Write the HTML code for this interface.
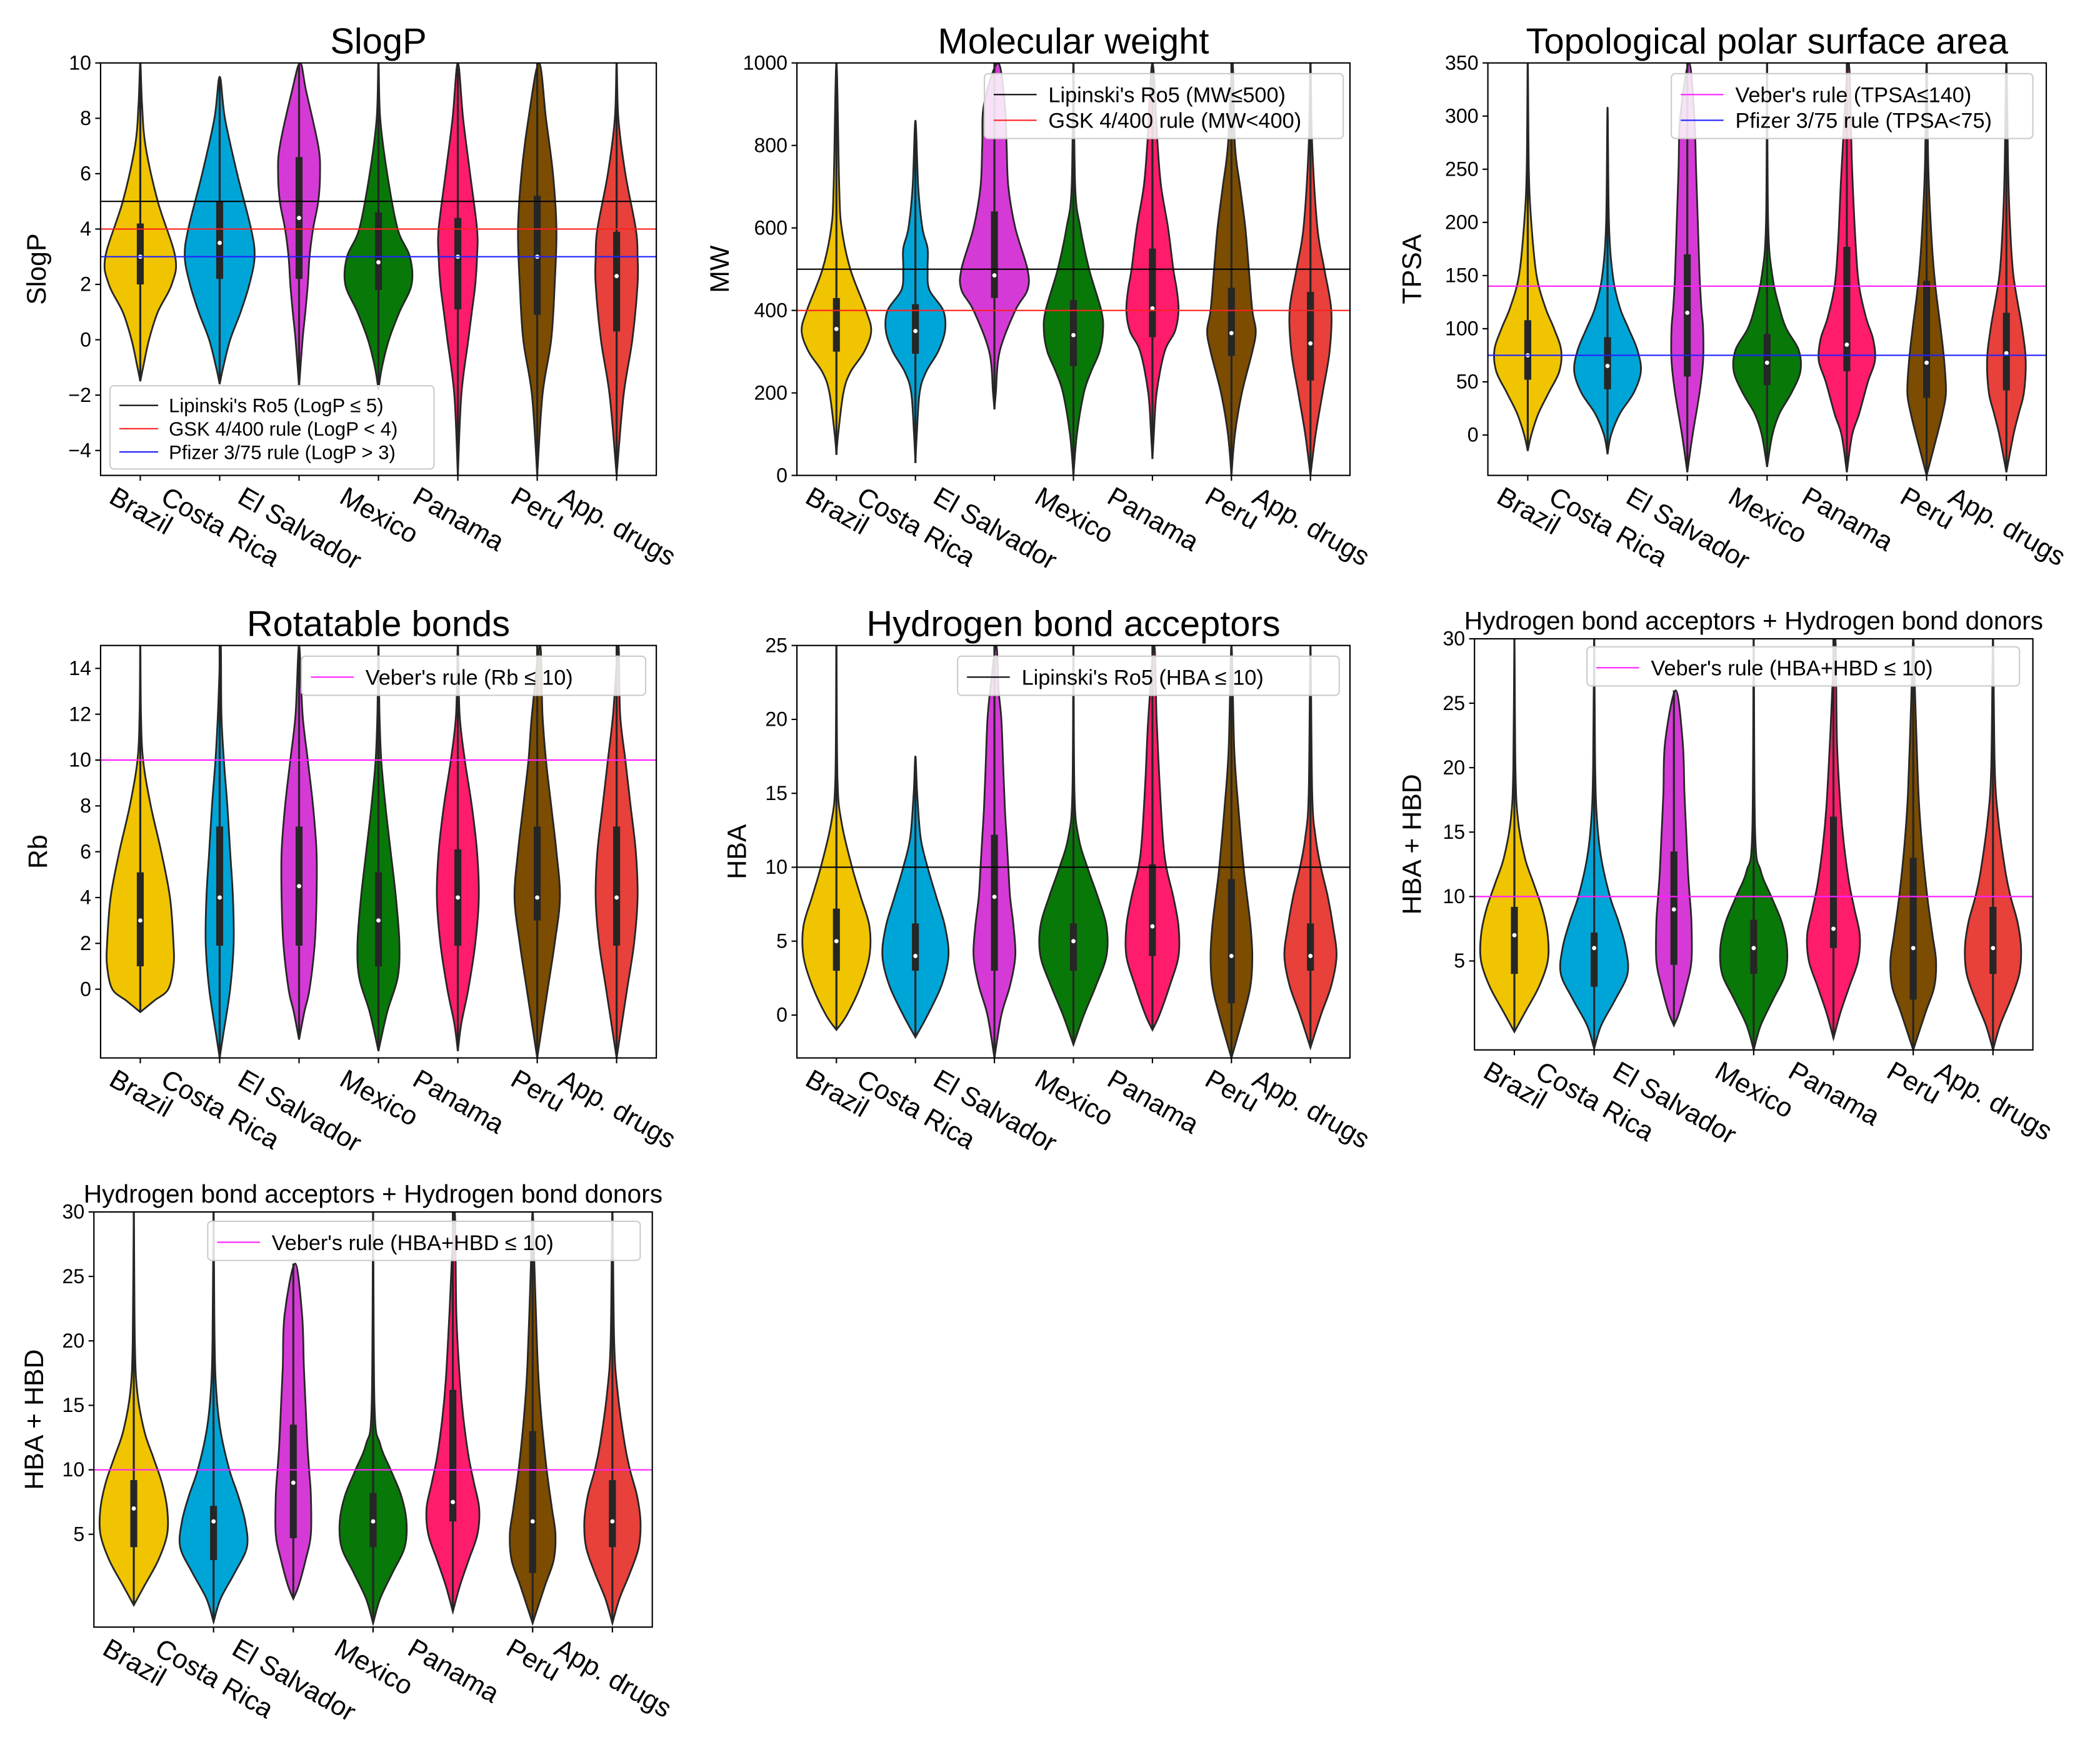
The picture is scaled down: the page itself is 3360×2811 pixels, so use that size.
<!DOCTYPE html>
<html><head><meta charset="utf-8">
<style>
html,body{margin:0;padding:0;background:#fff;}
svg{display:block;}
text{font-family:"Liberation Sans","DejaVu Sans",sans-serif;fill:#000;}
</style></head>
<body>
<svg id="fig" width="3360" height="2811" viewBox="0 0 1568 1312" xmlns="http://www.w3.org/2000/svg"></svg>
<script>
const categories = ["Brazil","Costa Rica","El Salvador","Mexico","Panama","Peru","App. drugs"];
const colors = ["#f0c400","#00a5d8","#d63ad6","#087808","#ff1c6c","#7c4c00","#e8403a"];

const slogpKnots = [
 [[-1.5,0],[-1,.08],[0,.25],[1,.5],[2,.9],[3,1],[5,.5],[7,.15],[8.5,.05],[10,0]],
 [[-1.6,0],[-1,.1],[0,.3],[1,.6],[2,.85],[3,1],[4,.9],[6,.5],[8,.15],[9.5,0]],
 [[-1.7,0],[0,.1],[1,.18],[2,.25],[3,.3],[4,.4],[5,.55],[6,.6],[7,.55],[9,.2],[10,.03]],
 [[-1.8,0],[-1,.1],[0,.3],[1,.6],[2,.95],[3,.9],[4,.55],[6,.25],[8,.05],[10,0]],
 [[-4.9,0],[-2,.1],[0,.3],[1,.4],[2,.5],[3,.55],[4,.55],[6,.35],[8,.15],[10,0]],
 [[-4.9,0],[-2,.15],[0,.4],[2,.5],[4,.55],[6,.45],[8,.25],[10,.05]],
 [[-4.9,0],[-2,.2],[0,.45],[2,.6],[3,.6],[4,.55],[6,.25],[8,.05],[10,0]]];
const slogpBox = [[2,3,4.2],[2.2,3.5,5],[2.2,4.4,6.6],[1.8,2.8,4.6],[1.1,3,4.4],[0.9,3,5.2],[0.3,2.3,3.9]];

const mwKnots = [
 [[50,0],[100,.05],[200,.2],[250,.4],[300,.8],[350,1],[400,.85],[500,.4],[600,.15],[700,.08],[1000,0]],
 [[30,0],[100,.04],[200,.12],[250,.3],[300,.65],[350,.85],[400,.8],[450,.4],[500,.35],[550,.35],[600,.2],[700,.08],[860,0]],
 [[160,0],[200,.04],[300,.15],[400,.6],[450,.95],[500,.95],[600,.6],[700,.4],[800,.35],[900,.3],[1000,.1]],
 [[0,0],[100,.1],[200,.3],[250,.5],[300,.75],[350,.85],[400,.8],[500,.45],[600,.2],[700,.05],[1000,0]],
 [[40,0],[100,.04],[200,.12],[300,.35],[350,.65],[400,.75],[450,.7],[500,.6],[600,.45],[700,.25],[800,.15],[1000,0]],
 [[0,0],[100,.1],[200,.3],[300,.6],[350,.7],[400,.6],[500,.5],[600,.4],[700,.25],[800,.1],[1000,.03]],
 [[0,0],[100,.15],[200,.35],[300,.55],[400,.6],[500,.4],[600,.2],[800,.05],[1000,0]]];
const mwBox = [[300,355,430],[295,350,415],[430,485,640],[265,340,425],[335,405,550],[290,345,455],[230,320,445]];

const tpsaKnots = [
 [[-15,0],[0,.1],[20,.3],[40,.6],[60,.9],[80,.95],[100,.75],[120,.5],[150,.25],[200,.1],[250,.03],[350,0]],
 [[-18,0],[0,.1],[20,.35],[40,.75],[60,.95],[80,.85],[100,.6],[120,.35],[150,.15],[200,.04],[308,0]],
 [[-35,0],[0,.15],[40,.35],[70,.45],[100,.45],[120,.4],[150,.35],[200,.3],[250,.25],[300,.2],[350,.05]],
 [[-30,0],[0,.15],[20,.35],[40,.7],[60,.95],[80,.9],[100,.55],[120,.35],[150,.15],[200,.03],[350,0]],
 [[-35,0],[0,.15],[20,.35],[50,.6],[70,.8],[90,.75],[110,.55],[140,.35],[180,.25],[250,.15],[350,.05]],
 [[-38,0],[0,.3],[20,.45],[40,.55],[70,.5],[100,.4],[140,.25],[180,.15],[250,.05],[350,0]],
 [[-35,0],[0,.2],[20,.35],[40,.5],[70,.55],[100,.45],[150,.2],[200,.1],[250,.05],[350,0]]];
const tpsaBox = [[52,75,108],[43,65,92],[55,115,170],[47,68,95],[60,85,177],[35,68,145],[42,77,115]];

const rbKnots = [
 [[-1,0],[-.5,.4],[0,.8],[1,.95],[2,.95],[4,.85],[6,.6],[8,.3],[10,.08],[12,.02],[15,0]],
 [[-3,0],[-2,.1],[0,.3],[2,.4],[4,.38],[6,.3],[8,.22],[10,.12],[12,.05],[15,.03]],
 [[-2.2,0],[-1,.15],[0,.3],[2,.45],[4,.5],[6,.5],[8,.4],[10,.25],[12,.1],[15,0]],
 [[-2.7,0],[-1,.25],[.5,.55],[2,.6],[4,.5],[6,.35],[8,.2],[10,.08],[12,.03],[15,0]],
 [[-2.7,0],[-1.5,.1],[0,.3],[2,.5],[4,.6],[6,.55],[8,.4],[10,.2],[12,.05],[15,0]],
 [[-3,0],[-2,.1],[0,.3],[2,.5],[4,.65],[6,.55],[8,.4],[10,.25],[12,.15],[15,.08]],
 [[-3,0],[-2,.1],[0,.3],[2,.5],[4,.6],[6,.55],[8,.4],[10,.25],[12,.1],[15,.05]]];
const rbBox = [[1,3,5.1],[1.9,4,7.1],[1.9,4.5,7.1],[1,3,5.1],[1.9,4,6.1],[3,4,7.1],[1.9,4,7.1]];

const hbaKnots = [
 [[-1,0],[0,.3],[2,.7],[4,.95],[6,.95],[8,.7],[10,.45],[13,.15],[16,.03],[25,0]],
 [[-1.5,0],[0,.35],[2,.75],[4,.95],[6,.85],[8,.6],[10,.35],[12,.15],[15,.05],[17.5,0]],
 [[-2.9,0],[0,.2],[2,.45],[4,.6],[6,.55],[8,.45],[10,.4],[12,.35],[14,.3],[17,.25],[20,.2],[22,.12],[25,.05]],
 [[-2,0],[0,.3],[2,.65],[4,.95],[6,.95],[8,.7],[10,.4],[12,.15],[15,.03],[25,0]],
 [[-1,0],[0,.2],[2,.5],[4,.75],[6,.75],[8,.6],[10,.4],[12,.3],[16,.2],[20,.12],[25,.05]],
 [[-2.9,0],[0,.35],[2,.55],[4,.6],[6,.55],[8,.45],[10,.35],[14,.2],[18,.08],[25,0]],
 [[-2.2,0],[0,.3],[2,.6],[4,.75],[6,.65],[8,.5],[10,.3],[12,.15],[15,.05],[25,0]]];
const hbaBox = [[3,5,7.2],[3,4,6.2],[3,8,12.2],[3,5,6.2],[4,6,10.2],[0.8,4,9.2],[3,4,6.2]];

const hbdKnots = [
 [[-.5,0],[1,.3],[3,.7],[5,.95],[7,.95],[9,.8],[11,.55],[13,.3],[16,.1],[20,.03],[30,0]],
 [[-1.8,0],[0,.2],[2,.6],[4,.95],[6,.9],[8,.7],[10,.45],[13,.2],[16,.08],[20,.03],[30,0]],
 [[0,0],[1,.15],[3,.35],[5,.5],[8,.5],[10,.45],[12,.4],[15,.35],[18,.3],[22,.25],[26,.05]],
 [[-1.9,0],[0,.2],[2,.55],[4,.9],[6,.95],[8,.8],[10,.5],[12,.2],[15,.04],[30,0]],
 [[-1,0],[1,.2],[3,.45],[5,.7],[7,.75],[9,.6],[11,.45],[14,.3],[17,.2],[22,.1],[30,.05]],
 [[-1.9,0],[1,.35],[3,.6],[5,.65],[7,.55],[10,.4],[14,.25],[18,.15],[25,.06],[30,0]],
 [[-1.9,0],[0,.2],[2,.5],[4,.75],[6,.8],[8,.7],[10,.5],[12,.35],[16,.15],[20,.05],[30,0]]];
const hbdBox = [[4,7,9.2],[3,6,7.2],[4.7,9,13.5],[4,6,8.2],[6,7.5,16.2],[2,6,13],[4,6,9.2]];

const slogpTicks=[-4,-2,0,2,4,6,8,10], mwTicks=[0,200,400,600,800,1000], tpsaTicks=[0,50,100,150,200,250,300,350],
      rbTicks=[0,2,4,6,8,10,12,14], hbaTicks=[0,5,10,15,20,25], hbdTicks=[5,10,15,20,25,30];

const panels = [
 {name:"slogp",title:"SlogP",tfs:27,ylab:"SlogP",yo:48,x0:75,x1:490,y0:47,y1:355,vmin:-4.9,vmax:10,ticks:slogpTicks,knots:slogpKnots,box:slogpBox,
  lines:[[5,"#000","Lipinski's Ro5 (LogP ≤ 5)"],[4,"#ff2020","GSK 4/400 rule (LogP < 4)"],[3,"#2020ff","Pfizer 3/75 rule (LogP > 3)"]],leg:[82,288,242,14.5]},
 {name:"mw",title:"Molecular weight",tfs:27,ylab:"MW",yo:58,x0:595,x1:1008,y0:47,y1:355,vmin:0,vmax:1000,ticks:mwTicks,knots:mwKnots,box:mwBox,
  lines:[[500,"#000","Lipinski's Ro5 (MW≤500)"],[400,"#ff2020","GSK 4/400 rule (MW<400)"]],leg:[735,55,268,16]},
 {name:"tpsa",title:"Topological polar surface area",tfs:27,ylab:"TPSA",yo:57,x0:1111,x1:1528,y0:47,y1:355,vmin:-38,vmax:350,ticks:tpsaTicks,knots:tpsaKnots,box:tpsaBox,
  lines:[[140,"#ff20ff","Veber's rule (TPSA≤140)"],[75,"#2020ff","Pfizer 3/75 rule (TPSA<75)"]],leg:[1248,55,270,16]},
 {name:"rb",title:"Rotatable bonds",tfs:27,ylab:"Rb",yo:47,x0:75,x1:490,y0:482,y1:790,vmin:-3,vmax:15,ticks:rbTicks,knots:rbKnots,box:rbBox,
  lines:[[10,"#ff20ff","Veber's rule (Rb ≤ 10)"]],leg:[225,490,257,16]},
 {name:"hba",title:"Hydrogen bond acceptors",tfs:27,ylab:"HBA",yo:45,x0:595,x1:1008,y0:482,y1:790,vmin:-2.9,vmax:25,ticks:hbaTicks,knots:hbaKnots,box:hbaBox,
  lines:[[10,"#000","Lipinski's Ro5 (HBA ≤ 10)"]],leg:[715,490,285,16]},
 {name:"hbd-right",title:"Hydrogen bond acceptors + Hydrogen bond donors",tfs:19,ylab:"HBA + HBD",yo:47,x0:1101,x1:1518,y0:477,y1:784,vmin:-1.9,vmax:30,ticks:hbdTicks,knots:hbdKnots,box:hbdBox,
  lines:[[10,"#ff20ff","Veber's rule (HBA+HBD ≤ 10)"]],leg:[1185,483,323,16]},
 {name:"hbd-left",title:"Hydrogen bond acceptors + Hydrogen bond donors",tfs:19,ylab:"HBA + HBD",yo:45,x0:70,x1:487,y0:905,y1:1215,vmin:-2.2,vmax:30,ticks:hbdTicks,knots:hbdKnots,box:hbdBox,
  lines:[[10,"#ff20ff","Veber's rule (HBA+HBD ≤ 10)"]],leg:[155,912,323,16]}
];

const NS="http://www.w3.org/2000/svg";
const fig=document.getElementById('fig');
function mk(tag,attrs,parent){const e=document.createElementNS(NS,tag);for(const k in attrs)e.setAttribute(k,attrs[k]);(parent||fig).appendChild(e);return e;}

function smoothPath(pts){
  let d="M"+pts[0][0].toFixed(2)+","+pts[0][1].toFixed(2);
  for(let i=0;i<pts.length-1;i++){
    const p0=pts[Math.max(i-1,0)],p1=pts[i],p2=pts[i+1],p3=pts[Math.min(i+2,pts.length-1)];
    const c1=[p1[0]+(p2[0]-p0[0])/6,p1[1]+(p2[1]-p0[1])/6];
    const c2=[p2[0]-(p3[0]-p1[0])/6,p2[1]-(p3[1]-p1[1])/6];
    d+=" C"+c1[0].toFixed(2)+","+c1[1].toFixed(2)+" "+c2[0].toFixed(2)+","+c2[1].toFixed(2)+" "+p2[0].toFixed(2)+","+p2[1].toFixed(2);
  }
  return d;
}

panels.forEach((P,pi)=>{
  const g=mk('g',{});
  
  
  const y=v=>P.y1-(v-P.vmin)/(P.vmax-P.vmin)*(P.y1-P.y0);
  const step=(P.x1-P.x0)/categories.length;
  const cx=i=>P.x0+(i+0.5)*step;
  const W=0.44*step;
  const clipId='clip'+pi;
  const cp=mk('clipPath',{id:clipId},g);
  mk('rect',{x:P.x0,y:P.y0,width:P.x1-P.x0,height:P.y1-P.y0},cp);
  const plot=mk('g',{'clip-path':'url(#'+clipId+')'},g);
  categories.forEach((c,i)=>{
    const k=P.knots[i];
    const right=k.map(p=>[cx(i)+p[1]*W,y(p[0])]);
    const left=k.slice().reverse().map(p=>[cx(i)-p[1]*W,y(p[0])]);
    const pts=right.concat(left.slice(1));
    const vp=mk('path',{d:smoothPath(pts)+" Z",fill:colors[i],stroke:"#262626","stroke-width":1.3},plot);
    
    
    const lo=k[0][0],hi=k[k.length-1][0];
    const wl=mk('line',{x1:cx(i),x2:cx(i),y1:y(lo),y2:y(hi),stroke:"#262626","stroke-width":1.5},plot);
    
    
    const b=P.box[i];
    const br=mk('rect',{x:cx(i)-2.6,y:y(b[2]),width:5.2,height:y(b[0])-y(b[2]),fill:"#262626"},plot);
    
    
    const md=mk('circle',{cx:cx(i),cy:y(b[1]),r:1.6,fill:"#fff"},plot);
    
    
  });
  P.lines.forEach(L=>{
    const rl=mk('line',{x1:P.x0,x2:P.x1,y1:y(L[0]),y2:y(L[0]),stroke:L[1],"stroke-width":1},g);
    
    
  });
  const fr=mk('rect',{x:P.x0,y:P.y0,width:P.x1-P.x0,height:P.y1-P.y0,fill:"none",stroke:"#000","stroke-width":1},g);
  
  
  P.ticks.forEach(t=>{
    mk('line',{x1:P.x0-4,x2:P.x0,y1:y(t),y2:y(t),stroke:"#000","stroke-width":1},g);
    const tt=mk('text',{x:P.x0-7,y:y(t)+5,"text-anchor":"end","font-size":15},g);
    tt.textContent=t<0?"\u2212"+(-t):String(t);
    
    
  });
  const yl=mk('text',{x:0,y:0,"text-anchor":"middle","font-size":20,transform:"translate("+(P.x0-P.yo+7)+","+((P.y0+P.y1)/2)+") rotate(-90)"},g);
  yl.textContent=P.ylab;
  
  
  const ti=mk('text',{x:(P.x0+P.x1)/2,y:P.y0-7,"text-anchor":"middle","font-size":P.tfs},g);
  ti.textContent=P.title;
  
  
  categories.forEach((c,i)=>{
    mk('line',{x1:cx(i),x2:cx(i),y1:P.y1,y2:P.y1+4,stroke:"#000","stroke-width":1},g);
    const xt=mk('text',{x:0,y:0,"text-anchor":"middle","font-size":20},g);
    xt.textContent=c;
    
    
    const L=xt.getComputedTextLength();
    const h=16;
    const bh=L*0.5+h*0.866;
    const cyy=P.y1+8+bh/2;
    xt.setAttribute('transform','translate('+cx(i)+','+cyy+') rotate(30) translate(0,'+(h*0.35)+')');
  });
  const [lx,ly,lw,fs]=P.leg;
  const rowH=fs*1.2;
  const lh=P.lines.length*rowH+10;
  const lg=mk('g',{},g);
  
  
  mk('rect',{x:lx,y:ly,width:lw,height:lh,rx:3,fill:"#fff","fill-opacity":0.85,stroke:"#ccc","stroke-width":1},lg);
  P.lines.forEach((L,j)=>{
    const yy=ly+6+rowH*(j+0.5);
    mk('line',{x1:lx+7,x2:lx+7+fs*2,y1:yy,y2:yy,stroke:L[1],"stroke-width":1},lg);
    const lt=mk('text',{x:lx+7+fs*2+fs*0.55,y:yy+fs*0.36,"font-size":fs},lg);
    lt.textContent=L[2];
    
    
  });
});
</script>
</body></html>
